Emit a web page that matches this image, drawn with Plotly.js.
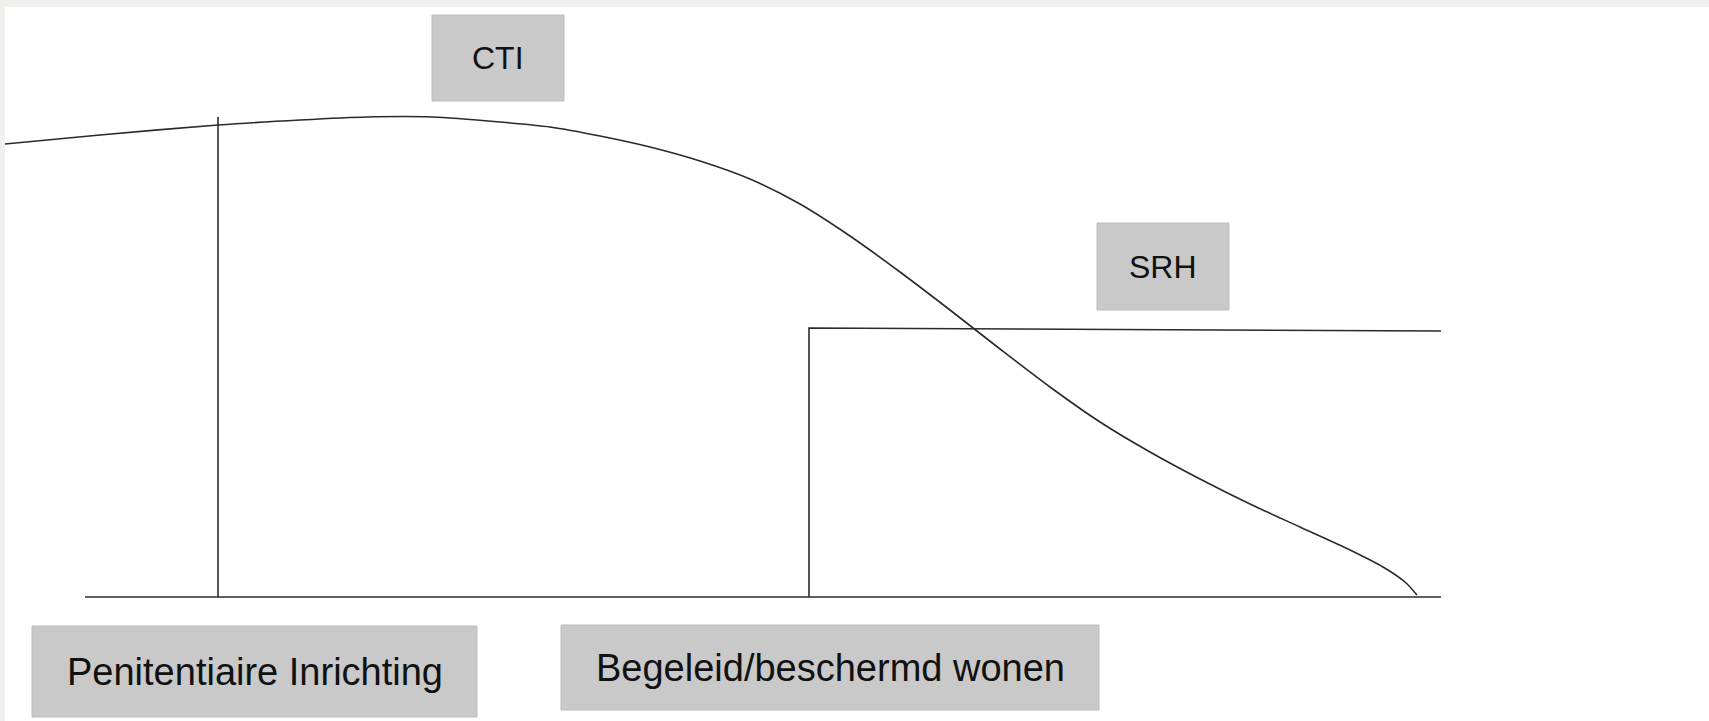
<!DOCTYPE html>
<html>
<head>
<meta charset="utf-8">
<script src="https://cdn.plot.ly/plotly-3.0.1.min.js"></script>
<style>
  html, body { margin: 0; padding: 0; background: #f0f0ee; }
  #chart { width: 1709px; height: 721px; }
</style>
</head>
<body>
<div id="chart"></div>
<script>
// Diagram data: x = time position, y = level above the baseline
const curveX = [5, 100, 218, 300, 367, 432, 500, 550, 600, 650, 700, 750, 800, 850, 900, 950, 1000, 1050, 1100, 1150, 1200, 1250, 1300, 1350, 1383, 1405, 1417];
const curveY = [453, 462, 472, 477, 480, 480, 475, 470, 461, 450, 436, 418, 393, 361, 325, 287, 248, 210, 175, 145, 118, 93, 70, 47, 30, 15, 2];

const baselineX = [85, 1441];
const baselineY = [0, 0];

const piLineX = [218, 218];
const piLineY = [0, 480];

const bwStepX = [809, 809, 1441];
const bwStepY = [0, 269, 266];

// Label boxes
const labels = ["CTI", "SRH", "Penitentiaire Inrichting", "Begeleid/beschermd wonen"];
const boxX0 = [432, 1097, 32, 561];
const boxX1 = [564, 1229, 477, 1099];
const boxY0 = [496, 287, -120, -113];
const boxY1 = [582, 374, -29, -28];
const labelSize = [32, 32, 38, 38];

const lineStyle = { color: '#2a2a2a', width: 1.6 };

const traces = [
  { x: curveX, y: curveY, mode: 'lines', line: Object.assign({ shape: 'spline', smoothing: 0.8 }, lineStyle), hoverinfo: 'skip' },
  { x: baselineX, y: baselineY, mode: 'lines', line: lineStyle, hoverinfo: 'skip' },
  { x: piLineX, y: piLineY, mode: 'lines', line: lineStyle, hoverinfo: 'skip' },
  { x: bwStepX, y: bwStepY, mode: 'lines', line: lineStyle, hoverinfo: 'skip' }
];

const shapes = [
  // white canvas below the grey top band and left strip
  { type: 'rect', xref: 'paper', yref: 'paper', x0: 5 / 1709, x1: 1, y0: 0, y1: 1 - 7 / 721,
    fillcolor: '#ffffff', line: { width: 0 }, layer: 'below' }
];
const annotations = [];
labels.forEach((t, i) => {
  shapes.push({ type: 'rect', xref: 'x', yref: 'y', x0: boxX0[i], x1: boxX1[i], y0: boxY0[i], y1: boxY1[i],
    fillcolor: '#c9c9c9', line: { color: '#bdbdbd', width: 1 }, layer: 'below' });
  annotations.push({ x: (boxX0[i] + boxX1[i]) / 2, y: (boxY0[i] + boxY1[i]) / 2, xref: 'x', yref: 'y',
    text: t, showarrow: false, font: { family: 'Liberation Sans, Arial, sans-serif', size: labelSize[i], color: '#111111' },
    xanchor: 'center', yanchor: 'middle' });
});

const layout = {
  width: 1709, height: 721,
  margin: { l: 0, r: 0, t: 0, b: 0 },
  paper_bgcolor: '#f0f0ee',
  plot_bgcolor: 'rgba(0,0,0,0)',
  showlegend: false,
  xaxis: { range: [0, 1709], visible: false, fixedrange: true },
  yaxis: { range: [-124, 597], visible: false, fixedrange: true },
  shapes: shapes,
  annotations: annotations
};

Plotly.newPlot('chart', traces, layout, { staticPlot: true, displayModeBar: false });
</script>
</body>
</html>
